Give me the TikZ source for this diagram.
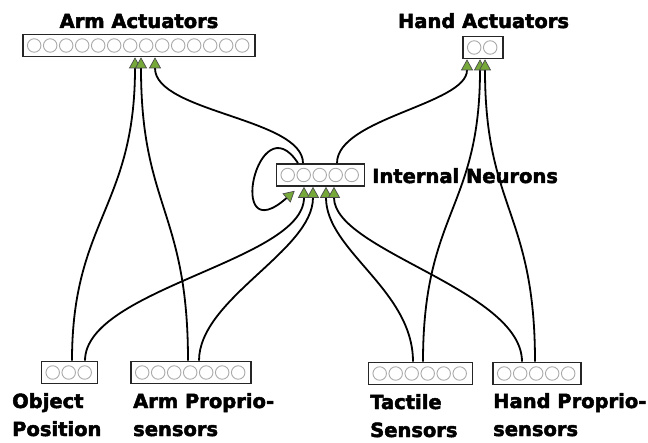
\documentclass[tikz,border=0pt]{standalone}
\usepackage{fontspec}
\usepackage{tikz}
\usetikzlibrary{arrows.meta}
\newfontfamily\lblfont[BoldFeatures={FakeBold=2.5}]{DejaVu Sans}
\definecolor{tipgreen}{RGB}{118,168,58}
\definecolor{unitgray}{RGB}{170,170,170}

\begin{document}
\begin{tikzpicture}[x = 1pt, y = -1pt,
	layer/.style = {draw = black!85, line width = 1.6pt, fill = white, shape = rectangle, minimum height = 22pt, inner sep = 0pt},
	unit/.style = {draw = unitgray, line width = .9pt, shape = circle, inner sep = 0pt, minimum size = 13.5pt},
	lbl/.style = {font = \lblfont\bfseries\fontsize{19.5}{28}\selectfont, inner sep = 0pt, align = left},
	link/.style = {draw = black, line width = 1.8pt, -{Triangle[width = 12pt, length = 11pt, color = black!70, fill = tipgreen, line width = .7pt]}}]
	\useasboundingbox (0,0) rectangle (648,443);
	% layers
	\node[layer, minimum width = 232pt] (armact) at (139, 45.5) {};
	\node[layer, minimum width = 40pt] (handact) at (483, 47.5) {};
	\node[layer, minimum width = 88pt] (intn) at (320.5, 175) {};
	\node[layer, minimum width = 56pt] (objpos) at (69.5, 372.5) {};
	\node[layer, minimum width = 120pt] (armprop) at (191, 372.5) {};
	\node[layer, minimum width = 104pt] (tactile) at (420.5, 373.5) {};
	\node[layer, minimum width = 88pt] (handprop) at (537, 373.5) {};
	\foreach \b/\n in {armact/14, handact/2, intn/5, objpos/3, armprop/7, tactile/6, handprop/5}
		\foreach \i in {1,...,\n}
			\node[unit] (\b-\i) at ([xshift = {(16*\i-4)*1pt}]\b.west) {};
	% labels (base = last line)
	\node[lbl, anchor = base] (armactlbl) at (139, 28) {Arm Actuators};
	\node[lbl, anchor = base] (handactlbl) at (483.5, 28) {Hand Actuators};
	\node[lbl, anchor = base west] (intnlbl) at (372, 183) {Internal Neurons};
	\node[lbl, anchor = base west] (objposlbl) at (12, 436) {Object\\Position};
	\node[lbl, anchor = base west] (armproplbl) at (133, 436) {Arm Proprio-\\sensors};
	\node[lbl, anchor = base west] (tactilelbl) at (370, 437) {Tactile\\Sensors};
	\node[lbl, anchor = base west] (handproplbl) at (493, 436) {Hand Proprio-\\sensors};
	% into arm actuators
	\draw[link] ([xshift = 2.5pt]objpos.north) .. controls +(0,-140) and +(0,150) .. ([xshift = -4pt]armact.south);
	\draw[link] ([xshift = -3pt]armprop.north) .. controls +(0,-150) and +(0,150) .. ([xshift = 2pt]armact.south);
	\draw[link] ([xshift = -17.5pt]intn.north) .. controls +(0,-45) and +(0,55) .. ([xshift = 16pt]armact.south);
	% into hand actuators
	\draw[link] ([xshift = 16.5pt]intn.north) .. controls +(0,-45) and +(0,45) .. ([xshift = -16pt]handact.south);
	\draw[link] ([xshift = 2.5pt]tactile.north) .. controls +(0,-150) and +(0,150) .. ([xshift = -3pt]handact.south);
	\draw[link] ([xshift = -2pt]handprop.north) .. controls +(0,-150) and +(0,150) .. ([xshift = 2pt]handact.south);
	% into internal neurons
	\draw[link] ([xshift = -22.5pt]intn.north) .. controls +(-40,-62) and +(-70,62) .. ([xshift = 19pt, yshift = -4pt]intn.south west);
	\draw[link] ([xshift = 15.5pt]objpos.north) .. controls +(0,-72) and +(0,74) .. ([xshift = -16.5pt]intn.south);
	\draw[link] ([xshift = 8pt]armprop.north) .. controls +(0,-62) and +(0,64) .. ([xshift = -7.5pt]intn.south);
	\draw[link] ([xshift = -7.5pt]tactile.north) .. controls +(0,-72) and +(0,64) .. ([xshift = 5.5pt]intn.south);
	\draw[link] ([xshift = -15pt]handprop.north) .. controls +(0,-72) and +(0,64) .. ([xshift = 13.5pt]intn.south);
\end{tikzpicture}
\end{document}
